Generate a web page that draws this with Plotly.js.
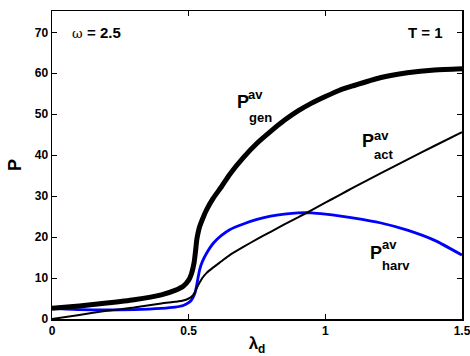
<!DOCTYPE html>
<html>
<head>
<meta charset="utf-8">
<script src="https://cdn.plot.ly/plotly-3.0.1.min.js"></script>
<style>html,body{margin:0;padding:0;background:#fff;}#chart{width:470px;height:356px;}</style>
</head>
<body>
<div id="chart"></div>
<script>
const lambda = [0, 0.1, 0.2, 0.3, 0.4, 0.45, 0.48, 0.5, 0.51, 0.52, 0.525, 0.53, 0.535, 0.54, 0.55, 0.565, 0.59, 0.62, 0.65, 0.7, 0.75, 0.8, 0.85, 0.9, 0.95, 1.0, 1.05, 1.1, 1.2, 1.3, 1.4, 1.5];
const pGen = [2.6, 3.2, 3.9, 4.7, 5.9, 7.0, 8.0, 9.5, 11.0, 13.8, 16.5, 19.5, 21.2, 22.5, 24.3, 26.6, 29.5, 32.3, 35.3, 39.4, 42.9, 45.8, 48.5, 50.8, 52.7, 54.3, 55.8, 56.9, 58.9, 60.1, 60.8, 61.1];
const pAct = [0, 1.0, 2.0, 2.8, 3.8, 4.2, 4.5, 5.0, 5.4, 6.2, 6.9, 7.6, 8.3, 8.9, 10.0, 11.2, 12.6, 14.1, 15.6, 17.6, 19.5, 21.3, 23.1, 24.8, 26.6, 28.4, 30.2, 32.0, 35.5, 38.9, 42.3, 45.6];
const pHarv = [2.6, 2.3, 2.2, 2.3, 2.6, 2.9, 3.3, 4.0, 4.6, 5.8, 6.8, 8.5, 10.3, 12.0, 14.0, 16.0, 18.5, 20.4, 21.8, 23.2, 24.3, 25.1, 25.6, 25.9, 25.9, 25.6, 25.2, 24.7, 23.5, 21.7, 19.2, 15.6];
const xTicks = [0, 0.5, 1, 1.5];
const xTickText = ['0', '0.5', '1', '1.5'];
const yTicks = [0, 10, 20, 30, 40, 50, 60, 70];

const F = 'Liberation Sans, Arial, sans-serif';

const traces = [
  {x: lambda, y: pHarv, mode: 'lines', line: {color: '#0000ff', width: 2.8, shape: 'spline', smoothing: 0.6}, hoverinfo: 'skip'},
  {x: lambda, y: pAct, mode: 'lines', line: {color: '#000000', width: 2, shape: 'spline', smoothing: 0.6}, hoverinfo: 'skip'},
  {x: lambda, y: pGen, mode: 'lines', line: {color: '#000000', width: 5, shape: 'spline', smoothing: 0.6}, hoverinfo: 'skip'}
];

function px2x(p) { return (p - 52) / 274; }
function py2y(p) { return (319 - p) / 4.096; }
function ann(text, px, py, size, anchor) {
  return {x: px2x(px), y: py2y(py), xref: 'x', yref: 'y', text: text, showarrow: false,
    xanchor: anchor || 'left', yanchor: 'middle', borderpad: 0,
    font: {family: F, size: size, color: '#000', weight: 'bold'}};
}

const annotations = [
  {x: px2x(71), y: py2y(33), xref: 'x', yref: 'y', text: 'ω', showarrow: false, xanchor: 'left', yanchor: 'middle', borderpad: 0,
   font: {family: 'DejaVu Serif, serif', size: 13, color: '#000'}},
  ann('= 2.5', 86, 32, 15),
  ann('T = 1', 445, 32, 15, 'right'),
  ann('P', 236, 102, 18), ann('av', 247, 94, 13), ann('gen', 248, 117, 13),
  ann('P', 362, 141, 18), ann('av', 374, 135, 13), ann('act', 374, 154, 13),
  ann('P', 370, 253, 18), ann('av', 382, 244, 13), ann('harv', 382, 265, 13)
];

const layout = {
  width: 470, height: 356,
  margin: {l: 52, r: 8, t: 11, b: 37, pad: 0},
  paper_bgcolor: '#fff', plot_bgcolor: '#fff',
  showlegend: false,
  xaxis: {
    range: [0, 1.5], tickvals: xTicks, ticktext: xTickText,
    ticks: 'inside', ticklen: 5, tickwidth: 1, tickcolor: '#000',
    showline: true, linecolor: '#000', linewidth: 1.5, mirror: 'ticks',
    showgrid: false, zeroline: false, ticklabeloverflow: 'allow',
    tickfont: {family: F, size: 12, color: '#000', weight: 'bold'},
    title: {text: '<b>λ<sub>d</sub></b>', font: {family: F, size: 17, color: '#000'}, standoff: 2}
  },
  yaxis: {
    range: [0, 75.2], tickvals: yTicks,
    ticks: 'inside', ticklen: 5, tickwidth: 1, tickcolor: '#000',
    showline: true, linecolor: '#000', linewidth: 1.5, mirror: 'ticks',
    showgrid: false, zeroline: false,
    tickfont: {family: F, size: 12, color: '#000', weight: 'bold'},
    title: {text: '<b>P</b>', font: {family: F, size: 18, color: '#000'}, standoff: 8}
  },
  annotations: annotations
};

Plotly.newPlot('chart', traces, layout, {staticPlot: true, displayModeBar: false});
</script>
</body>
</html>
